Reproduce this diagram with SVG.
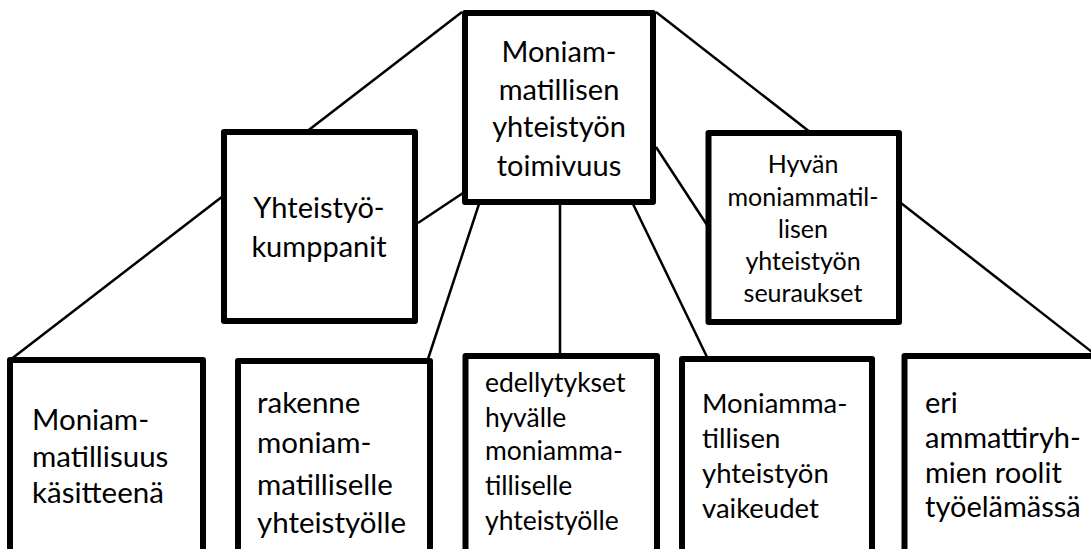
<svg xmlns="http://www.w3.org/2000/svg" width="1091" height="549" viewBox="0 0 1091 549">
<style>
.box{fill:#fff;stroke:#000;stroke-width:6;stroke-linejoin:round}
.ln{stroke:#000;stroke-width:2.5;fill:none}
text{font-family:Lato,"Liberation Sans",sans-serif;fill:#000}
.c{text-anchor:middle}
</style>
<rect width="1091" height="549" fill="#fff"/>
<g id="connectors">
<line class="ln" x1="462" y1="12" x2="10" y2="360"/>
<line class="ln" x1="656" y1="12" x2="1092" y2="352"/>
<line class="ln" x1="463" y1="193" x2="418" y2="223"/>
<line class="ln" x1="479" y1="204" x2="428" y2="359"/>
<line class="ln" x1="560" y1="204" x2="560" y2="356"/>
<line class="ln" x1="633" y1="204" x2="707" y2="357"/>
<line class="ln" x1="656" y1="147" x2="707" y2="225"/>
</g>
<g id="n-center">
<rect class="box" x="465" y="13" width="188" height="189"/>
<text class="c" font-size="29"><tspan x="559" y="62">Moniam-</tspan><tspan x="559" y="100">matillisen</tspan><tspan x="559" y="137">yhteistyön</tspan><tspan x="559" y="176">toimivuus</tspan></text>
</g>
<g id="n-yhteistyokumppanit">
<rect class="box" x="224" y="132" width="191" height="189"/>
<text class="c" font-size="29"><tspan x="319" y="218">Yhteistyö-</tspan><tspan x="319" y="257">kumppanit</tspan></text>
</g>
<g id="n-seuraukset">
<rect class="box" x="708.5" y="133" width="190.5" height="189"/>
<text class="c" font-size="25"><tspan x="803" y="173">Hyvän</tspan><tspan x="803" y="206">moniammatil-</tspan><tspan x="803" y="238">lisen</tspan><tspan x="803" y="270">yhteistyön</tspan><tspan x="803" y="302">seuraukset</tspan></text>
</g>
<g id="n-kasitteena">
<rect class="box" x="10" y="360" width="193" height="210"/>
<text font-size="29.5"><tspan x="32" y="430">Moniam-</tspan><tspan x="32" y="467">matillisuus</tspan><tspan x="32" y="503">käsitteenä</tspan></text>
</g>
<g id="n-rakenne">
<rect class="box" x="238" y="361" width="192" height="210"/>
<text font-size="29.5"><tspan x="257" y="413">rakenne</tspan><tspan x="257" y="453">moniam-</tspan><tspan x="257" y="495">matilliselle</tspan><tspan x="257" y="533">yhteistyölle</tspan></text>
</g>
<g id="n-edellytykset">
<rect class="box" x="465.5" y="356" width="191.5" height="215"/>
<text font-size="26.5"><tspan x="485" y="392">edellytykset</tspan><tspan x="485" y="427">hyvälle</tspan><tspan x="485" y="460">moniamma-</tspan><tspan x="485" y="495">tilliselle</tspan><tspan x="485" y="530">yhteistyölle</tspan></text>
</g>
<g id="n-vaikeudet">
<rect class="box" x="682" y="359" width="190" height="212"/>
<text font-size="27.5"><tspan x="702" y="413">Moniamma-</tspan><tspan x="702" y="448">tillisen</tspan><tspan x="702" y="483">yhteistyön</tspan><tspan x="702" y="518">vaikeudet</tspan></text>
</g>
<g id="n-roolit">
<rect class="box" x="904.5" y="356" width="200" height="215"/>
<text font-size="29"><tspan x="925" y="413">eri</tspan><tspan x="925" y="448">ammattiryh-</tspan><tspan x="925" y="483">mien roolit</tspan><tspan x="925" y="517">työelämässä</tspan></text>
</g>
</svg>
